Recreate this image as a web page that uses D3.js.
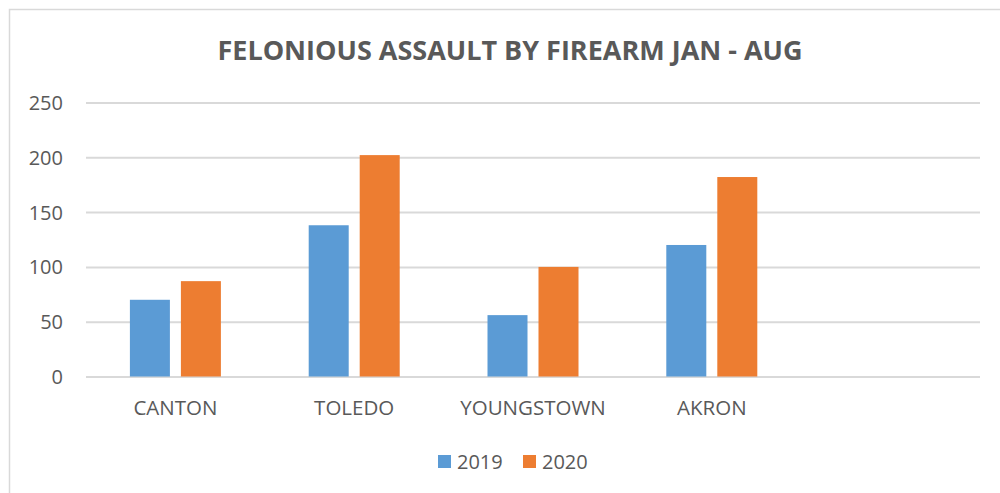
<!DOCTYPE html>
<html><head><meta charset="utf-8">
<script src="https://cdn.jsdelivr.net/npm/d3@7"></script>
<style>body{margin:0;background:#fff}svg{display:block}text{font-family:"Open Sans","Liberation Sans",sans-serif;fill:#595959}</style>
</head><body><svg id="c" width="1000" height="493"></svg>
<script>
const categories = ["CANTON","TOLEDO","YOUNGSTOWN","AKRON",""];
const seriesNames = ["2019","2020"];
const values2019 = [70,138,56,120,null];
const values2020 = [87,202,100,182,null];
const yTicks = [0,50,100,150,200,250];
const colors = ["#5B9BD5","#ED7D31"];
const title = "FELONIOUS ASSAULT BY FIREARM JAN - AUG";

const svg = d3.select("#c");
svg.append("rect").attr("x",9.5).attr("y",9.5).attr("width",1100).attr("height",600)
  .attr("fill","#fff").attr("stroke","#d9d9d9").attr("stroke-width",1.5);

const x0 = d3.scaleBand().domain(categories).range([86,980]).padding(0);
const bw = x0.bandwidth();
const x1 = d3.scaleBand().domain(seriesNames).range([bw/2-45.5,bw/2+45.5]).paddingInner(11/51).paddingOuter(0);
const y = d3.scaleLinear().domain([0,250]).range([376.5,102.5]);

const yAxis = d3.axisLeft(y).tickValues(yTicks).tickSize(-(980-86)).tickPadding(23);
const ga = svg.append("g").attr("transform","translate(86,0)").call(yAxis);
ga.select(".domain").remove();
ga.selectAll(".tick line").attr("stroke","#d9d9d9").attr("stroke-width",2);
ga.selectAll(".tick text").style("font-size","20px").attr("fill","#595959").attr("dy","0.35em");

const series = [values2019, values2020];
series.forEach((vals,si)=>{
  svg.append("g").selectAll("rect").data(categories.map((c,i)=>({c,v:vals[i]})).filter(d=>d.v!=null))
    .join("rect")
    .attr("x",d=>x0(d.c)+x1(seriesNames[si]))
    .attr("width",x1.bandwidth())
    .attr("y",d=>y(d.v))
    .attr("height",d=>y(0)-y(d.v))
    .attr("fill",colors[si]);
});

const xAxis = d3.axisBottom(x0).tickSize(0).tickPadding(0);
const gx = svg.append("g").attr("transform","translate(0,376.5)").call(xAxis);
gx.select(".domain").remove();
gx.selectAll(".tick text").style("font-size","20.5px").attr("fill","#595959").attr("y",31).attr("dy","0.35em");

svg.append("text").attr("x",510).attr("y",51).attr("dy","0.35em").attr("text-anchor","middle")
  .style("font-size","27px").style("font-weight","bold").text(title);

const legX = [438,523];
seriesNames.forEach((s,i)=>{
  svg.append("rect").attr("x",legX[i]).attr("y",455).attr("width",13).attr("height",13).attr("fill",colors[i]);
  svg.append("text").attr("x",legX[i]+19).attr("y",462).attr("dy","0.35em").style("font-size","20px").text(s);
});
</script></body></html>
